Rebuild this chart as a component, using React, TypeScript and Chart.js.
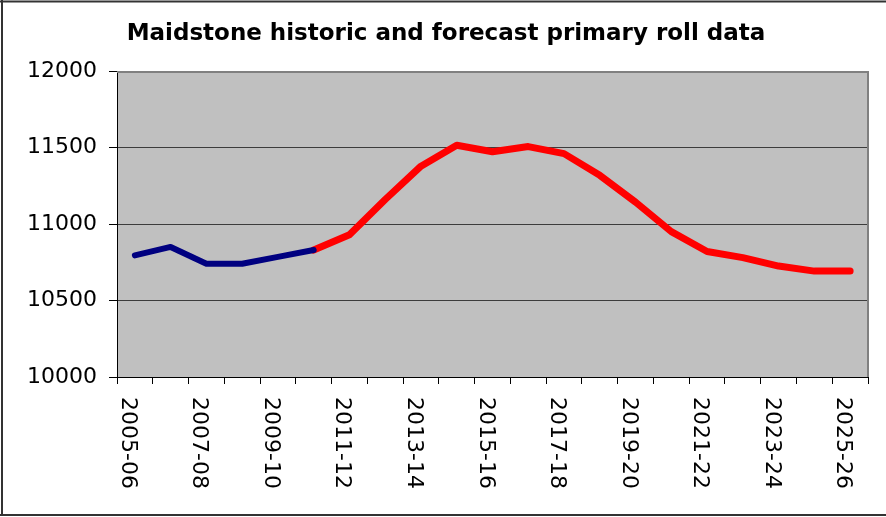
import React, { useEffect, useRef } from "react";
import { Chart, registerables } from "chart.js";

Chart.register(...registerables);

const categories = [
  "2005-06", "2006-07", "2007-08", "2008-09", "2009-10", "2010-11", "2011-12",
  "2012-13", "2013-14", "2014-15", "2015-16", "2016-17", "2017-18", "2018-19",
  "2019-20", "2020-21", "2021-22", "2022-23", "2023-24", "2024-25", "2025-26",
];

const historic = [
  10795, 10850, 10740, 10740, 10785, 10830,
  null, null, null, null, null, null, null, null, null, null, null, null, null, null, null,
];

const forecast = [
  null, null, null, null, null,
  10830, 10930, 11160, 11378, 11515, 11472, 11506, 11460, 11318, 11143, 10950,
  10820, 10780, 10725, 10692, 10692,
];

const yTicks = [10000, 10500, 11000, 11500, 12000];

const TITLE = "Maidstone historic and forecast primary roll data";

const decorPlugin = {
  id: "decor",
  beforeDraw(chart: any) {
    const { ctx, chartArea } = chart;
    ctx.save();
    ctx.fillStyle = "#ffffff";
    ctx.fillRect(0, 0, chart.width, chart.height);
    ctx.fillStyle = "#c0c0c0";
    ctx.fillRect(chartArea.left, chartArea.top, chartArea.right - chartArea.left, chartArea.bottom - chartArea.top);
    ctx.restore();
  },
  beforeDatasetsDraw(chart: any) {
    const { ctx, chartArea } = chart;
    ctx.save();
    ctx.strokeStyle = "#808080";
    ctx.lineWidth = 2;
    ctx.beginPath();
    ctx.moveTo(chartArea.left, chartArea.top + 1);
    ctx.lineTo(chartArea.right, chartArea.top + 1);
    ctx.moveTo(chartArea.right, chartArea.top);
    ctx.lineTo(chartArea.right, chartArea.bottom);
    ctx.stroke();
    ctx.restore();
  },
  afterDraw(chart: any) {
    const { ctx } = chart;
    const xScale = chart.scales.x;
    ctx.save();
    // outer border
    ctx.strokeStyle = "#333333";
    ctx.lineWidth = 2;
    ctx.beginPath();
    ctx.moveTo(2, 0);
    ctx.lineTo(2, 516);
    ctx.moveTo(0, 1.5);
    ctx.lineTo(886, 1.5);
    ctx.moveTo(0, 515);
    ctx.lineTo(886, 515);
    ctx.stroke();
    // title
    ctx.fillStyle = "#000000";
    ctx.font = 'bold 23px "DejaVu Sans"';
    ctx.textAlign = "center";
    ctx.textBaseline = "alphabetic";
    ctx.fillText(TITLE, 446, 40);
    // x labels rotated clockwise
    ctx.font = '22px "DejaVu Sans"';
    ctx.textAlign = "left";
    categories.forEach((c, i) => {
      if (i % 2 !== 0) return;
      const x = xScale.getPixelForValue(i);
      ctx.save();
      ctx.translate(x, 397);
      ctx.rotate(Math.PI / 2);
      ctx.fillText(c, 0, 13);
      ctx.restore();
    });
    ctx.restore();
  },
};

export default function App() {
  const ref = useRef<HTMLCanvasElement | null>(null);
  useEffect(() => {
    if (!ref.current) return;
    const chart = new Chart(ref.current, {
      type: "line",
      data: {
        labels: categories,
        datasets: [
          {
            label: "Historic",
            data: historic,
            borderColor: "#000080",
            backgroundColor: "#000080",
            borderWidth: 6,
            pointRadius: 0,
            borderCapStyle: "round",
            borderJoinStyle: "round",
            spanGaps: false,
          },
          {
            label: "Forecast",
            data: forecast,
            borderColor: "#ff0000",
            backgroundColor: "#ff0000",
            borderWidth: 7,
            pointRadius: 0,
            borderCapStyle: "round",
            borderJoinStyle: "round",
            spanGaps: false,
          },
        ],
      },
      plugins: [decorPlugin],
      options: {
        animation: false,
        responsive: false,
        maintainAspectRatio: false,
        layout: { padding: { top: 71, right: 18, left: 0, bottom: 0 } },
        plugins: {
          legend: { display: false },
          title: { display: false },
          tooltip: { enabled: false },
        },
        scales: {
          x: {
            type: "category",
            offset: true,
            grid: {
              offset: true,
              drawOnChartArea: false,
              drawTicks: true,
              tickLength: 7,
              color: "#000000",
              tickColor: "#000000",
            },
            border: { display: true, color: "#000000", width: 1 },
            ticks: { display: false, autoSkip: false },
            afterFit(scale: any) {
              scale.height = 140;
            },
          },
          y: {
            min: 10000,
            max: 12000,
            afterBuildTicks(scale: any) {
              scale.ticks = yTicks.map((v) => ({ value: v }));
            },
            grid: {
              color: "#3c3c3c",
              tickColor: "#000000",
              tickLength: 8,
              lineWidth: 1,
            },
            border: { display: true, color: "#000000", width: 1 },
            ticks: {
              color: "#000000",
              padding: 12,
              font: { family: "DejaVu Sans", size: 22 },
              callback: (v: any) => String(v),
            },
            afterFit(scale: any) {
              scale.width = 117;
            },
          },
        },
      },
    });
    return () => chart.destroy();
  }, []);
  return (
    <div style={{ position: "fixed", left: 0, top: 0, width: 886, height: 517, background: "#fff" }}>
      <canvas ref={ref} width={886} height={517} style={{ width: 886, height: 517, display: "block" }} />
    </div>
  );
}
